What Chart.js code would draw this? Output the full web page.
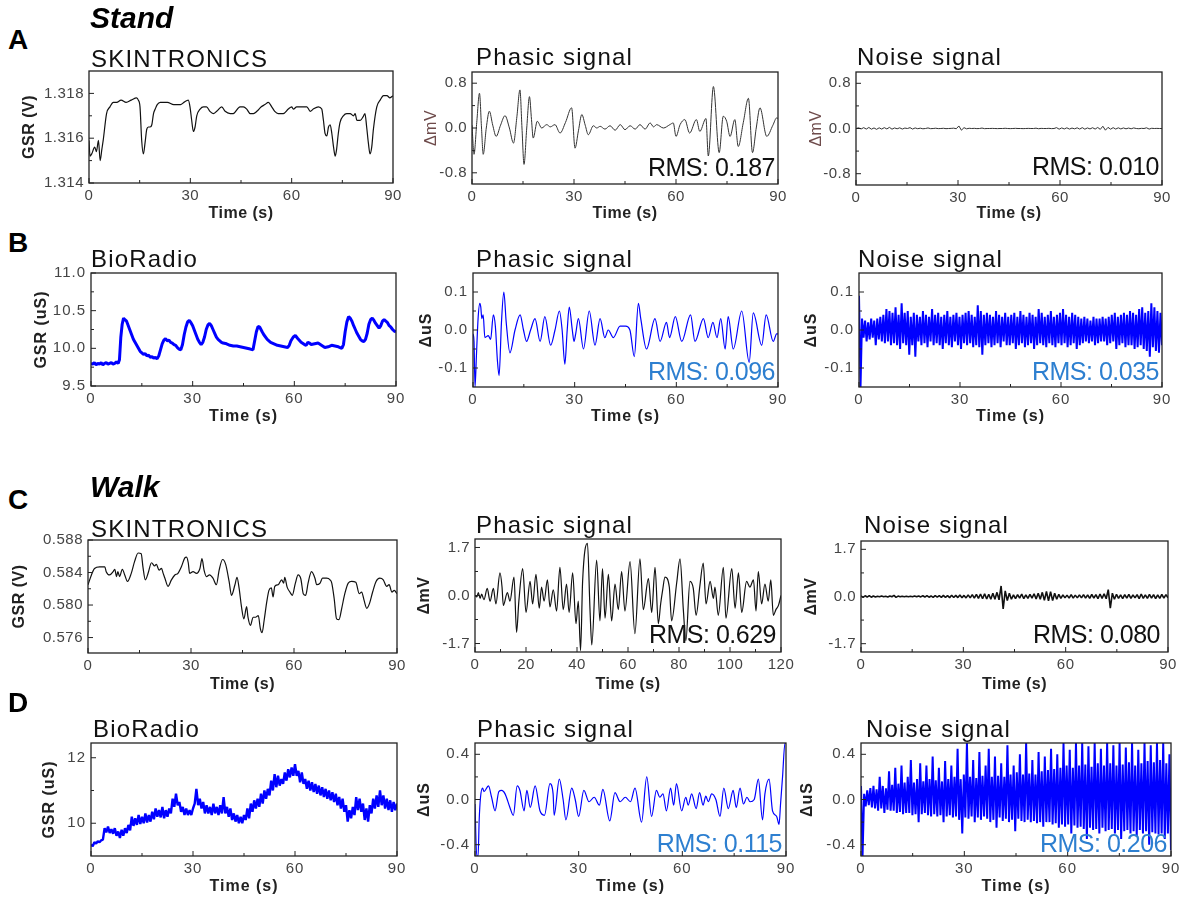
<!DOCTYPE html>
<html>
<head>
<meta charset="utf-8">
<script src="https://cdn.jsdelivr.net/npm/chart.js@4.4.1/dist/chart.umd.min.js"></script>
<style>
  html, body { margin: 0; padding: 0; background: #fff; overflow: hidden; }
  #fig { position: relative; width: 1181px; height: 901px; font-family: "Liberation Sans", Arial, sans-serif; }
  #fig canvas { position: absolute; }
  .t { position: absolute; white-space: nowrap; line-height: 1; color: #111; }
  .letter { font-size: 28px; font-weight: bold; color: #000; left: 8px; }
  .cond { font-size: 30px; font-weight: bold; font-style: italic; color: #000; left: 90px; }
  .head { font-size: 24px; letter-spacing: 1.2px; }
  .rms { font-size: 25px; letter-spacing: -0.5px; }
  .blue { color: #2d7fd0; }
</style>
</head>
<body>
<div id="fig">
  <div class="t letter" style="top:26px">A</div>
  <div class="t cond" style="top:3px">Stand</div>
  <div class="t head" style="left:91px;top:47px">SKINTRONICS</div>
  <div class="t head" style="left:476px;top:45px">Phasic signal</div>
  <div class="t head" style="left:857px;top:45px">Noise signal</div>

  <div class="t letter" style="top:229px">B</div>
  <div class="t head" style="left:91px;top:247px">BioRadio</div>
  <div class="t head" style="left:476px;top:247px">Phasic signal</div>
  <div class="t head" style="left:858px;top:247px">Noise signal</div>

  <div class="t letter" style="top:486px">C</div>
  <div class="t cond" style="top:472px">Walk</div>
  <div class="t head" style="left:91px;top:517px">SKINTRONICS</div>
  <div class="t head" style="left:476px;top:513px">Phasic signal</div>
  <div class="t head" style="left:864px;top:513px">Noise signal</div>

  <div class="t letter" style="top:689px">D</div>
  <div class="t head" style="left:93px;top:717px">BioRadio</div>
  <div class="t head" style="left:477px;top:717px">Phasic signal</div>
  <div class="t head" style="left:866px;top:717px">Noise signal</div>
</div>
<script>
// ---- tick values ----
const ticks90 = [0, 30, 60, 90];
const ticks120 = [0, 20, 40, 60, 80, 100, 120];
const standSkinTicks = [1.314, 1.316, 1.318];
const standMvTicks = [-0.8, 0, 0.8];
const standBioTicks = [9.5, 10, 10.5, 11];
const standUsTicks = [-0.1, 0, 0.1];
const walkSkinTicks = [0.576, 0.58, 0.584, 0.588];
const walkMvTicks = [-1.7, 0, 1.7];
const walkBioTicks = [10, 12];
const walkUsTicks = [-0.4, 0, 0.4];
const rmsLabels = ['RMS: 0.187', 'RMS: 0.010', 'RMS: 0.096', 'RMS: 0.035', 'RMS: 0.629', 'RMS: 0.080', 'RMS: 0.115', 'RMS: 0.206'];

// ---- A: stand, SKINTRONICS (V) ----
const standSkinT = [0,0.3,0.8,1.7,2.2,2.8,3.3,3.8,4.2,5.2, 6.2,7.2,8.2,9.5,11,12.5,14.1,14.6,15.1,15.6,
  16.1,16.6,17.1,17.6,18.1,18.6,19.1,19.6,20.2,21.1, 22.2,23.2,25.1,26.1,27.1,28.1,29.4,29.9,30.4,30.9,
  31.4,31.9,32.9,33.9,34.8,35.8,36.8,37.8,39.3,40.3, 41.8,42.7,44.7,45.7,46.7,47.7,48.7,49.7,51,52.1,
  53.1,54.1,55,56,57.5,59,60,60.5,61.5,63, 64.5,65.5,66.4,67.9,68.9,69.4,69.9,70.4,70.9,71.4,
  71.9,72.4,72.9,73.3,73.8,74.3,75.3,76.3,77.3,78.3, 78.8,79.3,80.3,81.3,81.7,82.2,82.7,83.2,83.7,84.2,
  85.2,86.2,87.2,88.2,89.1,90];
const standSkinV = [1.3159,1.3152,1.3153,1.3156,1.3154,1.3159,1.3150,1.3155,1.3159,1.3171,
  1.3174,1.3176,1.3176,1.3177,1.3176,1.3177,1.3178,1.3177,1.3174,1.3159,
  1.3153,1.3158,1.3164,1.3165,1.3165,1.3166,1.3171,1.3173,1.3175,1.3176,
  1.3176,1.3176,1.3175,1.3175,1.3175,1.3176,1.3177,1.3174,1.3168,1.3163,
  1.3165,1.3170,1.3173,1.3174,1.3174,1.3172,1.3171,1.3172,1.3174,1.3172,
  1.3171,1.3171,1.3174,1.3174,1.3173,1.3171,1.3171,1.3172,1.3174,1.3175,
  1.3176,1.3174,1.3172,1.3171,1.3171,1.3173,1.3174,1.3173,1.3174,1.3174,
  1.3174,1.3172,1.3173,1.3174,1.3173,1.3168,1.3162,1.3161,1.3165,1.3166,
  1.3162,1.3156,1.3152,1.3155,1.3162,1.3167,1.3170,1.3171,1.3171,1.3170,
  1.3171,1.3168,1.3168,1.3170,1.3171,1.3165,1.3158,1.3153,1.3156,1.3164,
  1.3174,1.3177,1.3179,1.3179,1.3178,1.3179];

const standSkinPhT = [0,0.6,1.4,2.2,2.8,3.3,4.2,5.1,6.1,7.1, 8.4,9.7,11,12.2,13.2,14.1,14.7,15.3,16.1,16.9,
  17.5,18,19.2,20.5,22,23,24.4,25.9,27.5,29.3, 30.3,31.3,32.3,33.3,34.2,35.7,36.7,37.7,39.1,40.6,
  42.1,43.6,45,46.5,48,49.4,50.9,52.4,53.4,54.3, 56.3,58.2,59.2,60,61.2,62.6,64,66,67,68.5,
  68.8,69.5,71,72.7,73.9,74.9,75.9,77.3,78.3,79.8, 81.3,82.5,83.6,84.7,86.7,88.5,89.6,90];
const standSkinPhV = [0.05,-0.47,0.1,0.62,0.0,-0.47,0.0,0.30,0.05,-0.15, 0.05,0.22,0.0,-0.27,0.2,0.68,0.0,-0.65,0.0,0.56,
  0.15,-0.18,0.12,0.0,0.06,0.02,0.06,-0.09,0.1,0.36, -0.36,-0.05,0.24,0.05,-0.12,0.04,0.0,0.03,-0.02,0.04,
  -0.04,0.06,-0.03,0.04,-0.02,0.06,-0.02,0.09,0.02,0.06, 0.0,0.06,0.09,-0.15,0.06,0.15,-0.09,0.15,-0.06,0.15,
  0.17,-0.50,0.74,-0.44,0.21,0.12,-0.15,0.15,-0.33,0.1, 0.53,-0.44,0.0,0.36,-0.15,0.05,0.18,0.17];

// evenly sampled over 0-90 s
const standSkinNoise = [0.0,0.012,-0.008,0.015,-0.01,0.018,-0.012,0.01,-0.015,0.012,-0.01,0.015,-0.008,0.02,-0.012,0.01,-0.005,0.012,-0.01,0.008,
  0.0,0.015,-0.01,0.01,-0.004,0.006,-0.005,0.0,0.01,-0.003,0.0,0.005,-0.002,0.0,0.004,-0.003,0.0,0.002,0.006,-0.004,
  0.045,-0.03,0.015,-0.006,0.004,0.0,0.003,-0.002,0.0,0.008,-0.003,0.0,0.0,0.002,0.0,-0.002,0.0,0.0,0.004,0.0,
  -0.002,0.0,0.003,0.0,0.0,-0.002,0.0,0.002,0.0,0.0,0.006,-0.004,0.002,0.0,0.0,0.003,-0.002,0.0,0.015,-0.012,
  0.01,-0.008,0.012,-0.01,0.008,-0.006,0.012,-0.01,0.015,-0.012,0.01,-0.008,0.014,-0.01,0.018,-0.015,0.04,-0.03,0.02,-0.012,
  0.015,-0.01,0.012,-0.008,0.01,-0.006,0.008,-0.005,0.01,0.0,-0.004,0.003,0.0,0.012,-0.01,0.004,0.0,0.002,0.0,0.0];

// ---- B: stand, BioRadio (uS) ----
const standBioT = [0,0.5,1,1.5,2,2.5,3,3.5,4,4.5,5,5.5,6,6.5,7,7.5,8,
  8.4,8.8,9.2,9.6,
  10,10.5,11,11.5,12,12.5,13,13.5,14,14.5,15,15.5,16,16.5,17,17.5,18,18.5,19,19.5,20,20.5,21,21.5,22,22.5,23,23.5,24,24.5,
  25,25.5,26,26.5,27,27.5,28,28.5,29,29.5,30,30.5,31,31.5,32,32.5,33,33.5,34,34.5,35,35.5,36,36.5,37,37.5,38,38.5,39,
  40,41,42,43,44,45,46,47,
  47.8,48.3,48.8,49.3,49.8,50.5,
  51,52,53,54,55,56,57,58,
  58.5,59,59.7,60.3,
  61,62,63,
  63.5,64,64.5,65,
  66,67,68,69,70,71,72,73,74,
  74.5,75,75.5,76,76.5,77,77.5,78,78.5,79,79.5,80,80.5,81,81.5,82,82.5,83,83.5,84,84.5,85,85.5,86,86.5,87,87.5,88,88.5,89,89.5,90];
const standBioV = [9.80,9.79,9.81,9.78,9.80,9.79,9.81,9.78,9.80,9.81,9.79,9.80,9.81,9.79,9.80,9.82,9.80,
  9.85,10.15,10.32,10.40,
  10.38,10.36,10.30,10.24,10.18,10.12,10.08,10.04,10.00,9.96,9.94,9.92,9.93,9.90,9.91,9.88,9.89,9.87,9.88,9.86,9.90,9.98,10.06,10.11,10.13,10.10,10.11,10.08,10.07,10.05,
  10.04,10.01,9.99,9.98,10.05,10.18,10.28,10.35,10.37,10.34,10.30,10.24,10.18,10.12,10.08,10.05,10.08,10.15,10.25,10.31,10.33,10.30,10.25,10.20,10.15,10.12,10.10,10.08,10.07,
  10.06,10.04,10.03,10.03,10.02,10.01,10.00,9.99,
  9.98,10.10,10.22,10.29,10.28,10.22,
  10.18,10.12,10.08,10.06,10.04,10.03,10.02,10.01,
  10.04,10.10,10.15,10.17,
  10.13,10.08,10.05,
  10.04,10.08,10.07,10.05,
  10.06,10.07,10.04,10.01,10.02,10.04,10.03,10.02,10.00,
  10.05,10.22,10.35,10.42,10.40,10.36,10.30,10.25,10.20,10.16,10.12,10.10,10.09,10.12,10.20,10.32,10.38,10.40,10.37,10.33,10.30,10.27,10.30,10.36,10.38,10.36,10.34,10.30,10.28,10.25,10.23,10.22];

const standBioPhT = [0,0.3,0.6,1,1.5,2,2.3,2.6,3,3.5, 4.5,5.2,6,6.6,7.2,7.7,8.4,9.1,9.8,10.9,
  12.4,13.9,14.9,15.8,17,18.3,19.8,21.2,22.9,24.2, 25.5,26.3,27.1,27.8,28.4,29.3,29.8,30.3,31.1,32.6,
  34.3,36,37.5,38.9,39.9,41.4,43.4,45,46.3,47.6, 48.8,49.5,51.2,53.7,55.2,57.1,58,59.7,61.6,64.2,
  65.5,68,69.4,70.8,72,73.1,74.4,75.3,76.8,79.3, 81.5,82.7,85.2,86.5,88.6,89.6,90];
const standBioPhV = [-0.01,-0.03,-0.15,-0.07,0.03,0.07,0.06,0.03,0.04,-0.02, -0.015,-0.025,0.04,0.01,-0.08,-0.12,0.02,0.1,0.02,-0.06,
  0.0,0.04,0.0,-0.03,0.0,0.03,-0.03,0.035,-0.04,0.0, 0.05,0.0,-0.09,0.0,0.06,0.0,-0.03,-0.01,0.03,-0.05,
  0.05,-0.04,0.03,-0.02,0.0,-0.02,0.01,0.01,0.0,-0.07, 0.07,0.03,-0.05,0.03,-0.03,0.02,-0.02,0.035,-0.03,0.04,
  -0.03,0.03,-0.02,0.02,-0.02,0.03,-0.05,0.035,-0.05,0.05, -0.085,0.045,-0.04,0.04,-0.03,-0.01,-0.01];

const standBioNoise = [0.09,-0.15,0.03,-0.02,0.025,-0.03,0.02,-0.025,0.03,-0.02,0.025,-0.04,0.03,-0.025,0.035,-0.03,0.04,-0.035,0.055,-0.03,
  0.05,-0.04,0.045,-0.035,0.06,-0.04,0.04,-0.05,0.07,-0.035,0.045,-0.04,0.05,-0.065,0.035,-0.04,0.045,-0.07,0.04,-0.03,
  0.035,-0.04,0.05,-0.035,0.04,-0.045,0.035,-0.03,0.055,-0.04,0.04,-0.035,0.045,-0.04,0.035,-0.05,0.04,-0.035,0.05,-0.04,
  0.035,-0.045,0.04,-0.03,0.045,-0.04,0.035,-0.05,0.04,-0.035,0.045,-0.04,0.05,-0.035,0.04,-0.045,0.035,-0.04,0.065,-0.045,
  0.05,-0.065,0.04,-0.04,0.045,-0.035,0.04,-0.045,0.035,-0.04,0.05,-0.035,0.04,-0.045,0.035,-0.03,0.045,-0.04,0.035,-0.04,
  0.04,-0.035,0.045,-0.05,0.035,-0.04,0.05,-0.035,0.04,-0.045,0.035,-0.04,0.045,-0.035,0.04,-0.05,0.035,-0.04,0.055,-0.035,
  0.045,-0.04,0.035,-0.045,0.04,-0.035,0.05,-0.04,0.035,-0.045,0.04,-0.035,0.045,-0.04,0.055,-0.035,0.04,-0.045,0.035,-0.04,
  0.045,-0.035,0.04,-0.05,0.035,-0.04,0.03,-0.035,0.035,-0.03,0.03,-0.035,0.025,-0.03,0.035,-0.04,0.03,-0.035,0.03,-0.03,
  0.035,-0.03,0.03,-0.04,0.035,-0.035,0.04,-0.03,0.045,-0.05,0.035,-0.04,0.04,-0.035,0.045,-0.045,0.04,-0.04,0.05,-0.04,
  0.045,-0.05,0.04,-0.045,0.055,-0.04,0.06,-0.05,0.045,-0.055,0.05,-0.07,0.07,-0.045,0.06,-0.055,0.05,-0.06,0.045,-0.04];

// ---- C: walk, SKINTRONICS (V) ----
const walkSkinT = [0,1,1.9,3.4,4.9,5.3,6.3,7.3,7.8,8.3, 8.7,9.2,10,10.7,11.5,12.6,13.6,14.6,15.5,16,
  16.7,17.5,18.5,19.4,19.9,20.7,21.4,21.9,22.4,23.3, 24.3,25.3,26.2,27.2,28.2,28.7,29.2,29.6,30.6,31.6,
  32.6,33.2,33.8,34.5,35.4,36.4,37.4,38.2,39.2,40.1, 41.1,41.8,42.8,43.4,44,44.7,45.4,46.2,46.6,47.3,
  48.1,48.8,49.6,50.2,50.7,51.3,52,52.7,53.4,53.9, 54.4,55.4,56.4,57,57.3,58,58.8,59.5,60.4,61.2,
  62,62.7,63.4,64.1,65.1,66.1,66.6,67.6,68.3,69.5, 70.5,71,71.7,72.4,73.1,73.9,74.8,75.8,76.8,78,
  79,79.7,80.4,81.2,82,82.9,83.9,85,86,87, 87.7,88.5,89.2,90];
const walkSkinV = [0.5825,0.5837,0.5845,0.5847,0.5847,0.5841,0.5837,0.5841,0.5844,0.5835,
  0.5841,0.5835,0.5844,0.5837,0.5829,0.5839,0.5854,0.5864,0.5863,0.5847,
  0.5831,0.5839,0.5852,0.5848,0.5850,0.5843,0.5845,0.5839,0.5833,0.5823,
  0.5831,0.5837,0.5839,0.5847,0.5858,0.5859,0.5852,0.5839,0.5841,0.5839,
  0.5845,0.5857,0.5843,0.5835,0.5837,0.5833,0.5825,0.5843,0.5856,0.5850,
  0.5829,0.5812,0.5825,0.5834,0.5821,0.5798,0.5783,0.5798,0.5785,0.5775,
  0.5785,0.5785,0.5787,0.5771,0.5766,0.5781,0.5802,0.5818,0.5821,0.5810,
  0.5823,0.5825,0.5831,0.5827,0.5834,0.5822,0.5816,0.5812,0.5827,0.5837,
  0.5832,0.5814,0.5812,0.5827,0.5841,0.5833,0.5825,0.5827,0.5833,0.5833,
  0.5831,0.5827,0.5808,0.5783,0.5782,0.5796,0.5814,0.5827,0.5829,0.5828,
  0.5814,0.5816,0.5806,0.5796,0.5802,0.5816,0.5829,0.5833,0.5831,0.5823,
  0.5825,0.5816,0.5818,0.5814];

const walkSkinPhT = [0,0.7,1.3,2,2.6,3.5,4.8,5.9,7.2,8.2, 9.8,10.6,11.1,12.7,13.7,15.3,16.3,17.2,18.7,20,
  21.6,22.6,23.9,25.2,26.1,27.1,28.4,29.4,30.7,32, 33.3,34.6,35.9,36.9,38.3,39.6,40.5,41.4,42.2,44.1,
  45.1,45.8,47.7,49,50,51,52.3,53.6,54.9,56.2, 57.5,58.8,60.8,62.7,64.7,66,68,69.3,70.6,71.9,
  72.8,73.6,74.5,76.2,77.1,79.1,80.4,81.7,82.7,84.3, 85.6,86.7,88.2,89.5,90.6,92.2,93.5,94.1,95.4,97.4,
  98.4,100.7,102,103.3,104.6,106.5,107.8,109.2,110.2,111.1, 112.4,113.7,115,116,117,118,119,120];
const walkSkinPhV = [0,-0.05,0.1,-0.1,0.05,-0.15,0.25,-0.2,0.25,-0.3, 0.8,0.3,-0.35,0.1,-0.2,0.65,-1.3,-0.2,0.95,-0.6,
  0.5,-0.3,0.75,-0.45,0.3,-0.2,0.55,-0.4,0.2,-0.55, 1.0,-0.5,0.4,-0.6,0.8,-1.0,-0.2,-1.95,0.5,1.85,
  -0.5,-1.75,1.25,-0.9,0.95,-0.8,0.75,-0.9,0.4,-0.5, 0.85,-0.55,1.2,-1.35,1.3,-0.5,0.6,-0.6,1.0,-1.0,
  -0.3,0.2,0.65,0.3,-0.9,0.45,1.3,-0.5,-1.6,0.5, 0.25,-0.7,0.35,1.15,-0.3,0.5,-0.1,0.3,-0.7,1.0,
  -0.8,0.95,-0.45,0.8,-0.6,0.5,0.3,0.55,-0.55,0.85, -0.3,0.4,-0.2,0.55,-0.7,-0.5,-0.35,0.0];

const walkSkinNoise = [0.02,-0.03,0.025,-0.02,0.03,-0.025,0.02,-0.015,0.01,-0.01,0.015,-0.01,0.01,-0.015,0.02,-0.01,0.04,-0.03,0.015,-0.01,
  0.01,-0.008,0.012,-0.01,0.008,-0.01,0.015,-0.012,0.02,-0.015,
  0.025,-0.02,0.03,-0.025,0.02,-0.03,0.035,-0.025,0.03,-0.03,0.04,-0.035,0.03,-0.04,0.045,-0.035,0.04,-0.04,0.05,-0.045,
  0.04,-0.05,0.06,-0.05,0.07,-0.06,0.08,-0.07,0.09,-0.08,
  0.1,-0.09,0.08,-0.1,0.12,-0.1,0.15,-0.12,0.38,-0.45,0.2,-0.15,0.12,-0.1,0.06,-0.08,0.07,-0.06,0.09,-0.08,
  0.06,-0.07,0.08,-0.06,0.1,-0.09,0.12,-0.1,0.15,-0.14,
  0.18,-0.16,0.17,-0.15,0.12,-0.1,0.08,-0.07,0.06,-0.05,0.05,-0.06,0.07,-0.06,0.05,-0.05,0.06,-0.05,0.07,-0.06,
  0.06,-0.07,0.08,-0.06,0.07,-0.08,0.09,-0.07,0.1,-0.08,
  0.25,-0.42,0.12,-0.1,0.08,-0.07,0.06,-0.08,0.07,-0.06,0.08,-0.07,0.06,-0.05,0.07,-0.08,0.09,-0.07,0.06,-0.07,
  0.08,-0.06,0.07,-0.08,0.06,-0.07,0.08,-0.06,0.07,-0.05];

// ---- D: walk, BioRadio (uS) ----
// sampled every 0.5 s
const walkBioV = [9.35,9.3,9.42,9.38,9.45,9.42,9.48,9.5,9.85,9.72,
  9.9,9.7,9.82,9.68,9.85,9.62,9.75,9.55,9.8,9.62,
  9.85,9.7,9.95,9.78,10.2,9.92,10.15,9.95,10.25,9.98,
  10.2,10.0,10.3,10.02,10.25,10.05,10.35,10.12,10.45,10.2,
  10.4,10.18,10.5,10.15,10.4,10.2,10.45,10.3,10.75,10.5,
  10.9,10.55,10.65,10.35,10.5,10.25,10.45,10.25,10.4,10.25,
  10.45,10.6,11.05,10.55,10.75,10.45,10.65,10.3,10.55,10.3,
  10.5,10.25,10.6,10.3,10.5,10.25,10.55,10.3,10.8,10.3,
  10.5,10.2,10.45,10.1,10.3,10.05,10.25,10.0,10.2,10.0,
  10.25,10.1,10.45,10.15,10.6,10.35,10.7,10.45,10.75,10.5,
  10.9,10.6,11.0,10.75,11.05,10.85,11.3,11.0,11.5,11.1,
  11.45,11.15,11.35,11.2,11.55,11.3,11.65,11.4,11.7,11.45,
  11.8,11.45,11.6,11.25,11.55,11.2,11.35,11.05,11.3,11.0,
  11.25,10.95,11.2,10.9,11.15,10.85,11.1,10.8,11.05,10.75,
  11.0,10.7,10.95,10.65,10.9,10.55,10.8,10.45,10.75,10.35,
  10.55,10.05,10.4,10.15,10.5,10.25,10.8,10.4,10.75,10.35,
  10.6,10.1,10.45,10.05,10.55,10.3,10.75,10.45,10.85,10.5,
  11.0,10.55,10.85,10.45,10.75,10.4,10.7,10.35,10.65,10.4,
  10.6];

const walkBioPhT = [0,0.5,0.9,1.2,1.6,2.2,2.6,3.9,4.8,5.8, 6.9,7.7,8.7,10.1,11.1,12.2,13,14.2,15,16,
  17.4,18.8,20.1,21.7,22.6,22.9,24.4,25.5,26.3,28, 29,30,31.5,33,34.5,36,37,39,40.5,42,
  43.5,45,46.3,48.2,49.7,51.1,52.5,53.5,54.4,55.4, 56.6,57.5,58.3,59.8,61,61.7,62.7,64,65,66,
  66.8,67.5,68.5,69.7,70.9,72,73.3,74.7,75.6,76.7, 77.7,78.7,79.6,80.8,82,83.2,83.9,85.1,86.1,87.3,
  88,88.4,89,89.7,90];
const walkBioPhV = [-0.04,-0.5,-0.5,-0.19,0.02,0.1,0.07,0.12,0.02,-0.1, 0.07,0.08,0.05,-0.07,-0.14,0.12,0.08,-0.1,0.08,-0.07,
  0.12,-0.1,-0.14,0.14,0.05,-0.14,0.18,0.0,-0.18,0.1, 0.0,-0.15,0.08,-0.02,0.02,-0.05,0.09,-0.19,0.06,-0.02,
  0.02,-0.02,0.1,-0.2,0.2,-0.15,0.08,0.02,0.05,-0.1, 0.1,-0.05,0.14,-0.1,0.02,-0.05,0.05,-0.08,0.06,-0.05,
  0.03,-0.02,0.05,0.0,-0.15,0.1,-0.08,0.08,-0.07,0.1, -0.04,0.02,-0.02,0.0,0.18,-0.18,0.05,0.18,-0.1,-0.15,
  -0.22,-0.05,0.2,0.5,0.5];

const walkBioNoise = [0.12,-0.5,0.05,-0.06,0.08,-0.05,0.1,-0.07,0.12,-0.08,0.09,-0.1,0.2,-0.08,0.12,-0.12,0.1,-0.09,0.25,-0.1,
  0.13,-0.1,0.28,-0.12,0.14,-0.11,0.3,-0.13,0.15,-0.12,0.2,-0.12,0.35,-0.14,0.15,-0.13,0.18,-0.2,0.32,-0.13,
  0.16,-0.12,0.3,-0.14,0.18,-0.15,0.38,-0.13,0.17,-0.15,0.28,-0.14,0.16,-0.2,0.34,-0.15,0.18,-0.14,0.3,-0.16,
  0.2,-0.15,0.45,-0.18,0.18,-0.3,0.22,-0.16,0.5,-0.17,0.2,-0.15,0.35,-0.2,0.19,-0.16,0.42,-0.18,0.21,-0.15,
  0.3,-0.17,0.45,-0.2,0.2,-0.18,0.38,-0.25,0.21,-0.16,0.32,-0.19,0.2,-0.17,0.48,-0.2,0.22,-0.18,0.3,-0.28,
  0.24,-0.17,0.4,-0.19,0.22,-0.2,0.5,-0.18,0.23,-0.2,0.35,-0.19,0.22,-0.21,0.42,-0.2,0.25,-0.24,0.38,-0.2,
  0.26,-0.2,0.45,-0.22,0.27,-0.21,0.4,-0.25,0.28,-0.22,0.5,-0.24,0.3,-0.22,0.44,-0.3,0.28,-0.23,0.5,-0.25,
  0.3,-0.24,0.5,-0.26,0.31,-0.35,0.47,-0.25,0.29,-0.27,0.5,-0.26,0.32,-0.3,0.45,-0.25,0.3,-0.28,0.5,-0.27,
  0.32,-0.26,0.48,-0.3,0.3,-0.27,0.5,-0.35,0.31,-0.28,0.46,-0.27,0.33,-0.3,0.5,-0.28,0.3,-0.33,0.44,-0.27,
  0.32,-0.3,0.5,-0.28,0.34,-0.4,0.48,-0.29,0.33,-0.3,0.5,-0.31,0.35,-0.3,0.5,-0.35,0.32,-0.3,0.4,-0.45];

// ---- drawing ----
const FONT = '"Liberation Sans", Arial, sans-serif';
const BLACK = '#111', BLUE = '#0000ff';
Chart.defaults.font.family = FONT;

const frame = {
  id: 'frame',
  afterDraw(chart) {
    const { ctx, chartArea: a, scales: { x, y } } = chart;
    const mids = v => v.slice(1).map((b, i) => (b + v[i]) / 2);
    const xt = x.ticks.map(t => t.value), yt = y.ticks.map(t => t.value);
    ctx.save();
    ctx.strokeStyle = '#222';
    ctx.lineWidth = 1.3;
    ctx.strokeRect(a.left, a.top, a.right - a.left, a.bottom - a.top);
    ctx.lineWidth = 1;
    ctx.beginPath();
    xt.forEach(v => { const p = x.getPixelForValue(v); ctx.moveTo(p, a.bottom); ctx.lineTo(p, a.bottom - 5); });
    mids(xt).forEach(v => { const p = x.getPixelForValue(v); ctx.moveTo(p, a.bottom); ctx.lineTo(p, a.bottom - 3); });
    yt.forEach(v => { const p = y.getPixelForValue(v); ctx.moveTo(a.left, p); ctx.lineTo(a.left + 5, p); });
    mids(yt).forEach(v => { const p = y.getPixelForValue(v); ctx.moveTo(a.left, p); ctx.lineTo(a.left + 3, p); });
    ctx.stroke();
    ctx.restore();
  }
};

const spacing = {
  id: 'spacing',
  beforeDraw(chart, args, opts) { chart.ctx.letterSpacing = opts.ls || '0px'; }
};

const panels = [
  { box: [89, 71, 393, 183], yTitleX: 30, xTitleY: 213, t: standSkinT, v: standSkinV, xTicks: ticks90,
    yMin: 1.314, yMax: 1.319, yTicks: standSkinTicks, dec: 3, yTitle: 'GSR (V)', color: BLACK, lw: 1.2, smooth: true },
  { box: [472, 72, 778, 184], yTitleX: 432, xTitleY: 213, t: standSkinPhT, v: standSkinPhV, xTicks: ticks90,
    yMin: -1, yMax: 1, yTicks: standMvTicks, dec: 1, yTitle: 'ΔmV', titleColor: '#6e4b4b', titleWeight: 'normal', color: '#333', lw: 1, smooth: true,
    rms: 0, rmsRight: 775, rmsTop: 155 },
  { box: [856, 72, 1162, 185], yTitleX: 817, xTitleY: 213, v: standSkinNoise, span: 90, xTicks: ticks90,
    yMin: -1, yMax: 1, yTicks: standMvTicks, dec: 1, yTitle: 'ΔmV', titleColor: '#6e4b4b', titleWeight: 'normal', color: '#333', lw: 1,
    rms: 1, rmsRight: 1159, rmsTop: 154 },

  { box: [91, 273, 396, 386], yTitleX: 42, xTitleY: 416, t: standBioT, v: standBioV, xTicks: ticks90,
    yMin: 9.5, yMax: 11, yTicks: standBioTicks, dec: 1, yTitle: 'GSR (uS)', color: BLUE, lw: 3, ls: '1px' },
  { box: [473, 273, 778, 387], yTitleX: 427, xTitleY: 416, t: standBioPhT, v: standBioPhV, xTicks: ticks90,
    yMin: -0.15, yMax: 0.15, yTicks: standUsTicks, dec: 1, yTitle: 'ΔuS', color: BLUE, lw: 1.2, smooth: true, ls: '1px',
    rms: 2, blue: true, rmsRight: 775, rmsTop: 359 },
  { box: [859, 273, 1162, 387], yTitleX: 812, xTitleY: 416, v: standBioNoise, span: 90, xTicks: ticks90,
    yMin: -0.15, yMax: 0.15, yTicks: standUsTicks, dec: 1, yTitle: 'ΔuS', color: BLUE, lw: 2, ls: '1px',
    rms: 3, blue: true, rmsRight: 1159, rmsTop: 359 },

  { box: [88, 540, 397, 653], yTitleX: 20, xTitleY: 684, t: walkSkinT, v: walkSkinV, xTicks: ticks90,
    yMin: 0.5741, yMax: 0.588, yTicks: walkSkinTicks, dec: 3, yTitle: 'GSR (V)', color: BLACK, lw: 1.2, smooth: true },
  { box: [475, 539, 781, 652], yTitleX: 425, xTitleY: 684, t: walkSkinPhT, v: walkSkinPhV, xTicks: ticks120, xMax: 120,
    yMin: -2, yMax: 2, yTicks: walkMvTicks, dec: 1, yTitle: 'ΔmV', color: BLACK, lw: 1.2, smooth: true,
    rms: 4, rmsRight: 776, rmsTop: 622 },
  { box: [861, 541, 1168, 652], yTitleX: 812, xTitleY: 684, v: walkSkinNoise, span: 90, xTicks: ticks90,
    yMin: -2, yMax: 2, yTicks: walkMvTicks, dec: 1, yTitle: 'ΔmV', color: BLACK, lw: 1.6,
    rms: 5, rmsRight: 1160, rmsTop: 622 },

  { box: [91, 743, 397, 856], yTitleX: 50, xTitleY: 886, v: walkBioV, span: 90, xTicks: ticks90,
    yMin: 9, yMax: 12.45, yTicks: walkBioTicks, dec: 0, yTitle: 'GSR (uS)', color: BLUE, lw: 2.4, ls: '1px' },
  { box: [475, 743, 786, 856], yTitleX: 425, xTitleY: 886, t: walkBioPhT, v: walkBioPhV, xTicks: ticks90,
    yMin: -0.5, yMax: 0.5, yTicks: walkUsTicks, dec: 1, yTitle: 'ΔuS', color: BLUE, lw: 1.2, smooth: true, ls: '1px',
    rms: 6, blue: true, rmsRight: 782, rmsTop: 831 },
  { box: [861, 743, 1171, 856], yTitleX: 808, xTitleY: 886, v: walkBioNoise, span: 90, xTicks: ticks90, padRight: 10,
    yMin: -0.5, yMax: 0.5, yTicks: walkUsTicks, dec: 1, yTitle: 'ΔuS', color: BLUE, lw: 2, ls: '1px',
    rms: 7, blue: true, rmsRight: 1167, rmsTop: 831 }
];

const fig = document.getElementById('fig');

panels.forEach(p => {
  const [l, t, r, b] = p.box;
  const padTop = 10, padRight = p.padRight || 14;
  const left = Math.round(p.yTitleX - 13.6);
  const top = t - padTop;
  const bottom = Math.round(p.xTitleY + 13.6);
  const yW = l - left, xH = bottom - b;

  const cv = document.createElement('canvas');
  cv.width = r + padRight - left;
  cv.height = bottom - top;
  cv.style.left = left + 'px';
  cv.style.top = top + 'px';
  fig.insertBefore(cv, fig.firstChild);

  const pts = p.t
    ? p.t.map((x, i) => ({ x, y: p.v[i] }))
    : p.v.map((y, i) => ({ x: i * p.span / (p.v.length - 1), y }));

  const tickFont = { size: 15, family: FONT };
  const titleFont = { size: 16, weight: 'bold', family: FONT, lineHeight: 1.2 };

  new Chart(cv, {
    type: 'line',
    data: { datasets: [{ data: pts, borderColor: p.color, borderWidth: p.lw, pointRadius: 0, fill: false,
      borderJoinStyle: 'bevel', tension: 0, cubicInterpolationMode: p.smooth ? 'monotone' : 'default' }] },
    options: {
      responsive: false, animation: false, parsing: false, normalized: true, events: [],
      layout: { padding: { top: padTop, right: padRight, left: 0, bottom: 0 } },
      plugins: { legend: { display: false }, tooltip: { enabled: false }, spacing: { ls: p.ls || '0.5px' } },
      scales: {
        x: {
          type: 'linear', min: 0, max: p.xMax || 90,
          grid: { display: false, drawTicks: false }, border: { display: false },
          ticks: { padding: 4, color: '#444', font: tickFont, autoSkip: false, maxRotation: 0, callback: v => String(v) },
          afterBuildTicks: s => { s.ticks = p.xTicks.map(value => ({ value })); },
          afterFit: s => { s.height = xH; s.paddingLeft = 0; s.paddingRight = 0; },
          title: { display: true, text: 'Time (s)', color: '#222', font: titleFont, padding: { top: 4, bottom: 4 } }
        },
        y: {
          type: 'linear', min: p.yMin, max: p.yMax,
          grid: { display: false, drawTicks: false }, border: { display: false },
          ticks: { padding: 5, color: '#444', font: tickFont, autoSkip: false, callback: v => Number(v).toFixed(p.dec) },
          afterBuildTicks: s => { s.ticks = p.yTicks.map(value => ({ value })); },
          afterFit: s => { s.width = yW; s.paddingTop = 0; s.paddingBottom = 0; },
          title: { display: true, text: p.yTitle, color: p.titleColor || '#222',
            font: { ...titleFont, weight: p.titleWeight || 'bold' }, padding: { top: 4, bottom: 4 } }
        }
      }
    },
    plugins: [spacing, frame]
  });

  if (p.rms !== undefined) {
    const d = document.createElement('div');
    d.className = 't rms' + (p.blue ? ' blue' : '');
    d.style.right = (1181 - p.rmsRight) + 'px';
    d.style.top = p.rmsTop + 'px';
    d.textContent = rmsLabels[p.rms];
    fig.appendChild(d);
  }
});
</script>
</body>
</html>
